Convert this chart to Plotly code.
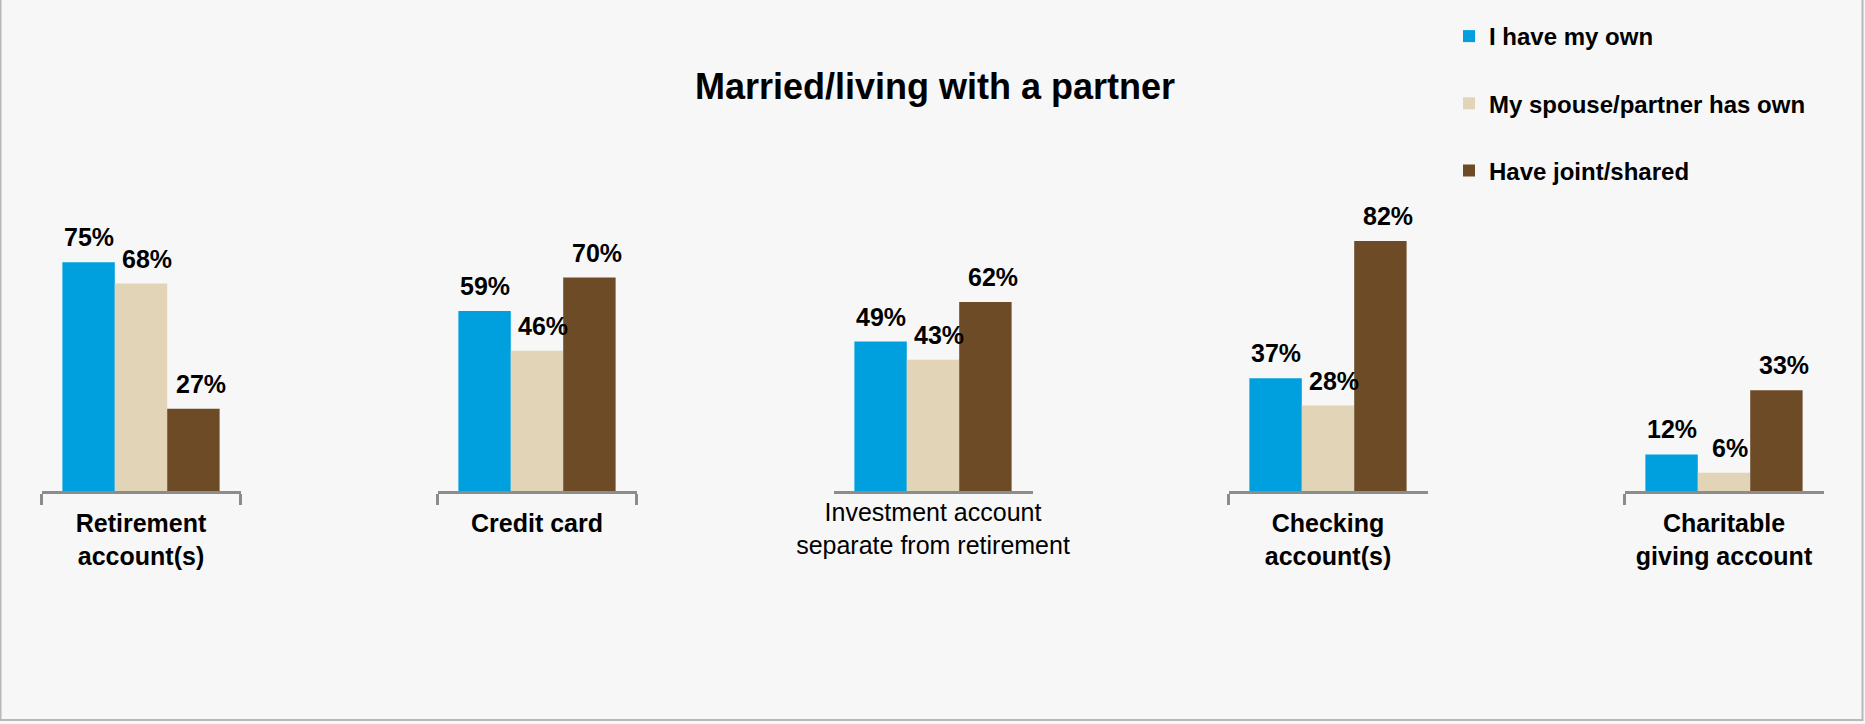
import plotly.graph_objects as go

# Account categories (one small panel per category)
categories = [
    "Retirement<br>account(s)",
    "Credit card",
    "Investment account<br>separate from retirement",
    "Checking<br>account(s)",
    "Charitable<br>giving account",
]
series_names = ["I have my own", "My spouse/partner has own", "Have joint/shared"]
own_values = [75, 59, 49, 37, 12]
spouse_values = [68, 46, 43, 28, 6]
joint_values = [27, 70, 62, 82, 33]

series_values = [own_values, spouse_values, joint_values]
colors = ["#00A0DE", "#E2D4B6", "#6C4B26"]

W, H = 1865, 724
FONT = "Liberation Sans, Arial, sans-serif"
AXIS_GREY = "#8C8C8C"

# panel centers / widths in pixels -> paper domains
panel_centers = [141, 537, 933, 1328, 1724]
panel_width = 199
bold_labels = [True, True, False, True, True]

bargap = 0.21
bar_w = (1 - bargap) / 3
label_xshift = [0, 6, 8]

fig = go.Figure()
annotations = []

for i, cat in enumerate(categories):
    xa = "x" if i == 0 else f"x{i + 1}"
    for k, name in enumerate(series_names):
        v = series_values[k][i]
        fig.add_trace(go.Bar(
            x=[cat], y=[v], name=name,
            xaxis=xa, yaxis="y",
            marker=dict(color=colors[k], line=dict(width=0)),
            legendgroup=name, showlegend=(i == 0),
            hoverinfo="skip",
        ))
        annotations.append(dict(
            xref=xa, yref="y", x=(k - 1) * bar_w, y=v,
            text=f"{v}%", showarrow=False,
            yanchor="bottom", xanchor="center", yshift=9, xshift=label_xshift[k],
            font=dict(family=FONT, size=25, color="#000000", weight="bold"),
        ))

    c = panel_centers[i]
    axis = dict(
        domain=[(c - panel_width / 2) / W, (c + panel_width / 2) / W],
        anchor="y",
        type="category",
        showline=True, linecolor=AXIS_GREY, linewidth=3,
        showgrid=False, zeroline=False,
        tickson="boundaries",
        ticks="outside" if bold_labels[i] else "",
        ticklen=11 if bold_labels[i] else 0, tickwidth=3, tickcolor=AXIS_GREY,
        tickfont=dict(family=FONT, size=25 if bold_labels[i] else 25, color="#000000",
                      weight="bold" if bold_labels[i] else "normal"),
        ticklabelstandoff=8 if bold_labels[i] else -3,
        automargin=False,
        fixedrange=True,
    )
    fig.layout["xaxis" if i == 0 else f"xaxis{i + 1}"] = axis

fig.update_layout(
    width=W, height=H, autosize=False,
    margin=dict(l=0, r=0, t=186, b=233, autoexpand=False),
    paper_bgcolor="#F7F7F7", plot_bgcolor="rgba(0,0,0,0)",
    barmode="group", bargap=bargap, bargroupgap=0,
    yaxis=dict(range=[0, 100], visible=False, fixedrange=True),
    title=dict(
        text="<b>Married/living with a partner</b>",
        x=935 / W, xanchor="center", xref="paper",
        y=1 - 86 / H, yanchor="middle", yref="container",
        font=dict(family=FONT, size=36, color="#000000"),
    ),
    legend=dict(
        xref="container", yref="container",
        x=1449 / W, xanchor="left", y=1 - 14 / H, yanchor="top",
        bgcolor="rgba(0,0,0,0)", traceorder="grouped", tracegroupgap=33,
        font=dict(family=FONT, size=24, color="#000000", weight="bold"),
    ),
    annotations=annotations,
    shapes=[dict(
        type="rect", xref="paper", yref="paper",
        x0=0.5 / W, x1=1 - 2.5 / W,
        y0=-(720 - 491) / 305, y1=(491 + 10) / 305,
        line=dict(color="#B8B8B8", width=2), fillcolor="rgba(0,0,0,0)", layer="below",
    )],
)

fig.write_html("out.html")
